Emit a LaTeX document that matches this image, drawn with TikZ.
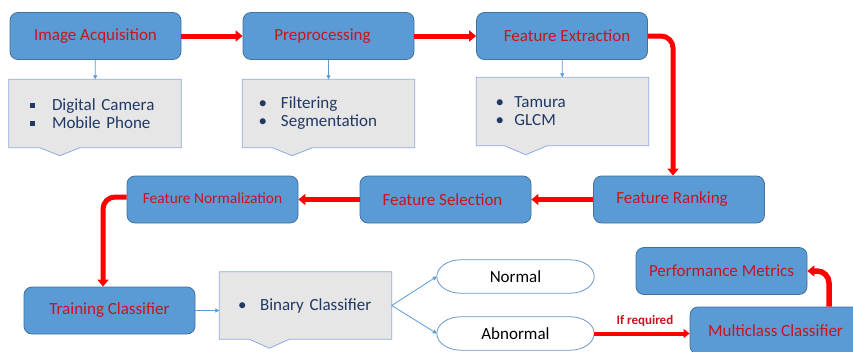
\documentclass[tikz,border=0pt]{standalone}
\usepackage{fontspec}
\setmainfont{Carlito}
\usetikzlibrary{arrows.meta,calc,backgrounds}

\definecolor{boxfill}{HTML}{5B9BD5}
\definecolor{boxedge}{HTML}{41719C}
\definecolor{boxtext}{HTML}{C8141E}
\definecolor{notefill}{HTML}{E7E6E6}
\definecolor{noteedge}{HTML}{8FAADC}
\definecolor{notetext}{HTML}{1F3864}
\definecolor{flowred}{HTML}{FF0000}
\definecolor{thinblue}{HTML}{5B9BD5}
\definecolor{pilledge}{HTML}{6A98CC}

% callout frame: rectangle with a V-shaped pointer on its lower edge
% #1 node name, #2 offset of the pointer base from the left edge, #3 base width, #4 depth
\newcommand\drawcallout[4]{%
  \filldraw[noteframe] (#1.north west) -- (#1.north east) -- (#1.south east)
    -- ($(#1.south west)+(#2+#3,0)$) -- ($(#1.south west)+(#2+#3/2,#4)$)
    -- ($(#1.south west)+(#2,0)$) -- (#1.south west) -- cycle;}
% pill outline with elliptic ends (24 wide, 16.5 high quarter ellipses)
\newcommand\drawpill[1]{%
  \filldraw[pillframe]
    ($(#1.north west)+(24,0)$) -- ($(#1.north east)+(-24,0)$)
    .. controls ($(#1.north east)+(-10.7,0)$) and ($(#1.east)+(0,-9.1)$) .. (#1.east)
    .. controls ($(#1.east)+(0,9.1)$) and ($(#1.south east)+(-10.7,0)$) .. ($(#1.south east)+(-24,0)$)
    -- ($(#1.south west)+(24,0)$)
    .. controls ($(#1.south west)+(10.7,0)$) and ($(#1.west)+(0,9.1)$) .. (#1.west)
    .. controls ($(#1.west)+(0,-9.1)$) and ($(#1.north west)+(10.7,0)$) .. ($(#1.north west)+(24,0)$)
    -- cycle;}
\newcommand\sqbullet{\raisebox{2.5pt}{\rule{4.5pt}{4.5pt}}}

\tikzset{
  stagebox/.style={rectangle, rounded corners=8pt, fill=boxfill, draw=boxedge,
    line width=0.8pt, minimum width=171pt, minimum height=47pt, inner sep=0pt,
    text=boxtext, font=\fontsize{17}{20}\selectfont},
  note/.style={rectangle, minimum width=172pt, minimum height=68pt, inner ysep=0pt,
    text=notetext, align=left, font=\fontsize{17}{18}\selectfont},
  noteframe/.style={fill=notefill, draw=noteedge, line width=0.8pt},
  outcome/.style={rectangle, minimum width=157pt, minimum height=33pt, inner sep=0pt,
    font=\fontsize{17}{20}\selectfont},
  pillframe/.style={fill=white, draw=pilledge, line width=0.8pt},
  bigflow/.style={draw=flowred, line width=5pt, rounded corners=12pt,
    -{Triangle[width=11pt,length=7pt]}},
  midflow/.style={draw=flowred, line width=4pt,
    -{Triangle[width=9pt,length=6pt]}},
  thinflow/.style={draw=thinblue, line width=0.8pt,
    -{Triangle[width=4pt,length=4pt]}},
}

\begin{document}
\begin{tikzpicture}[x=1pt,y=-1pt]
\useasboundingbox (0,0) rectangle (853,351);
\begin{pgfonlayer}{background}
  \fill[white] (0,0) rectangle (853,351);
\end{pgfonlayer}
\clip (0,0) rectangle (853,351);

% top row
\node[stagebox] (ia) at (95.5,36) {Image Acquisition};
\node[stagebox] (pp) at (328.5,36) {\hspace{-12pt}Preprocessing};
\node[stagebox] (fe) at (562,36) {\hspace{10pt}Feature Extraction};

% notes under the top row
\node[note, text width=130pt] (n1) at (95,113.5)
  {\makebox[22pt][l]{\sqbullet}Digital Camera\\\makebox[22pt][l]{\sqbullet}Mobile Phone};
\node[note, text width=140pt] (n2) at (328.5,113.5)
  {\makebox[22.5pt][l]{\textbullet}Filtering\\\makebox[22.5pt][l]{\textbullet}Segmentation};
\node[note, text width=134pt] (n3) at (562.5,111.5)
  {\makebox[19pt][l]{\textbullet}Tamura\\\makebox[19pt][l]{\textbullet}GLCM};

% middle row
\node[stagebox] (fr) at (679,199.5) {\hspace{-14pt}Feature Ranking};
\node[stagebox] (fs) at (445.5,199.5) {\hspace{-6pt}Feature Selection};
\node[stagebox, font=\fontsize{15.4}{18}\selectfont] (fn) at (212.5,199.5)
  {\raisebox{3pt}{Feature Normalization}};

% bottom row
\node[stagebox] (tc) at (109.5,310.5) {Training Classifier};
\node[note, minimum height=67pt, text width=135pt] (bc) at (305.5,305.5)
  {\makebox[22pt][l]{\textbullet}Binary Classifier};
\node[outcome] (no) at (515.5,276.5) {Normal};
\node[outcome] (ab) at (515.5,333.5) {Abnormal};
\node[stagebox] (pm) at (721.5,271) {Performance Metrics};
\node[stagebox] (mc) at (775.5,330.5) {Multiclass Classifier};

\begin{pgfonlayer}{background}
  \drawcallout{n1}{31}{40}{8}
  \drawcallout{n2}{30}{40}{8}
  \drawcallout{n3}{28}{43}{9}
  \drawcallout{bc}{30}{40}{9}
  \drawpill{no}
  \drawpill{ab}
\end{pgfonlayer}

% main flow
\draw[bigflow] (ia) -- (pp);
\draw[bigflow] (pp) -- (fe);
\draw[bigflow] (fe.east) -| ($(fr.north)+(-6,0)$);
\draw[bigflow] (fr) -- (fs);
\draw[bigflow] (fs) -- (fn);
\draw[bigflow] ($(fn.west)+(0,-2.5)$) -| ($(tc.north)+(-6.5,0)$);
\draw[bigflow, line width=5.5pt] ($(mc.north)+(53.5,0)$) |- (pm.east);
\draw[midflow] (ab.east) -- (ab.east -| mc.west)
  node[midway, above=2pt, xshift=3pt, text=boxtext, font=\fontsize{13}{14}\bfseries] {If required};

% detail links
\draw[thinflow] (ia) -- (n1);
\draw[thinflow] (pp) -- (n2);
\draw[thinflow] (fe) -- (n3);
\draw[thinflow] (tc.east) -- (tc.east -| bc.west);
\draw[thinflow] (bc.east) -- (no.west);
\draw[thinflow] (bc.east) -- (ab.west);
\end{tikzpicture}
\end{document}
